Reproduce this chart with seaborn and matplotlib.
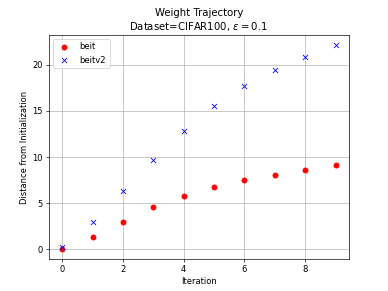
import numpy as np
import pandas as pd
import matplotlib
matplotlib.use("Agg")
import matplotlib.pyplot as plt
import seaborn as sns

iterations = [0, 1, 2, 3, 4, 5, 6, 7, 8, 9]
beit = [0.07, 1.33, 3.0, 4.58, 5.84, 6.77, 7.5, 8.1, 8.65, 9.12]
beitv2 = [0.25, 3.0, 6.34, 9.69, 12.83, 15.5, 17.7, 19.46, 20.86, 22.13]

df = pd.DataFrame({"Iteration": iterations, "beit": beit, "beitv2": beitv2})

fig, ax = plt.subplots(figsize=(6.4, 4.8), dpi=60.625)
sns.scatterplot(data=df, x="Iteration", y="beit", ax=ax, color="red", marker="o",
                s=36, edgecolor="red", linewidth=1, label="beit", zorder=3)
sns.scatterplot(data=df, x="Iteration", y="beitv2", ax=ax, color="blue", marker="x",
                s=36, linewidth=1, label="beitv2", zorder=3)

ax.grid(True, color="#b0b0b0", linewidth=0.8)
ax.set_axisbelow(True)
ax.set_xlabel("Iteration")
ax.set_ylabel("Distance from Initialization")
ax.set_title("Weight Trajectory\nDataset=CIFAR100, $\\epsilon = 0.1$")
ax.legend(loc="upper left")

fig.savefig("out.png", dpi=60.625)
